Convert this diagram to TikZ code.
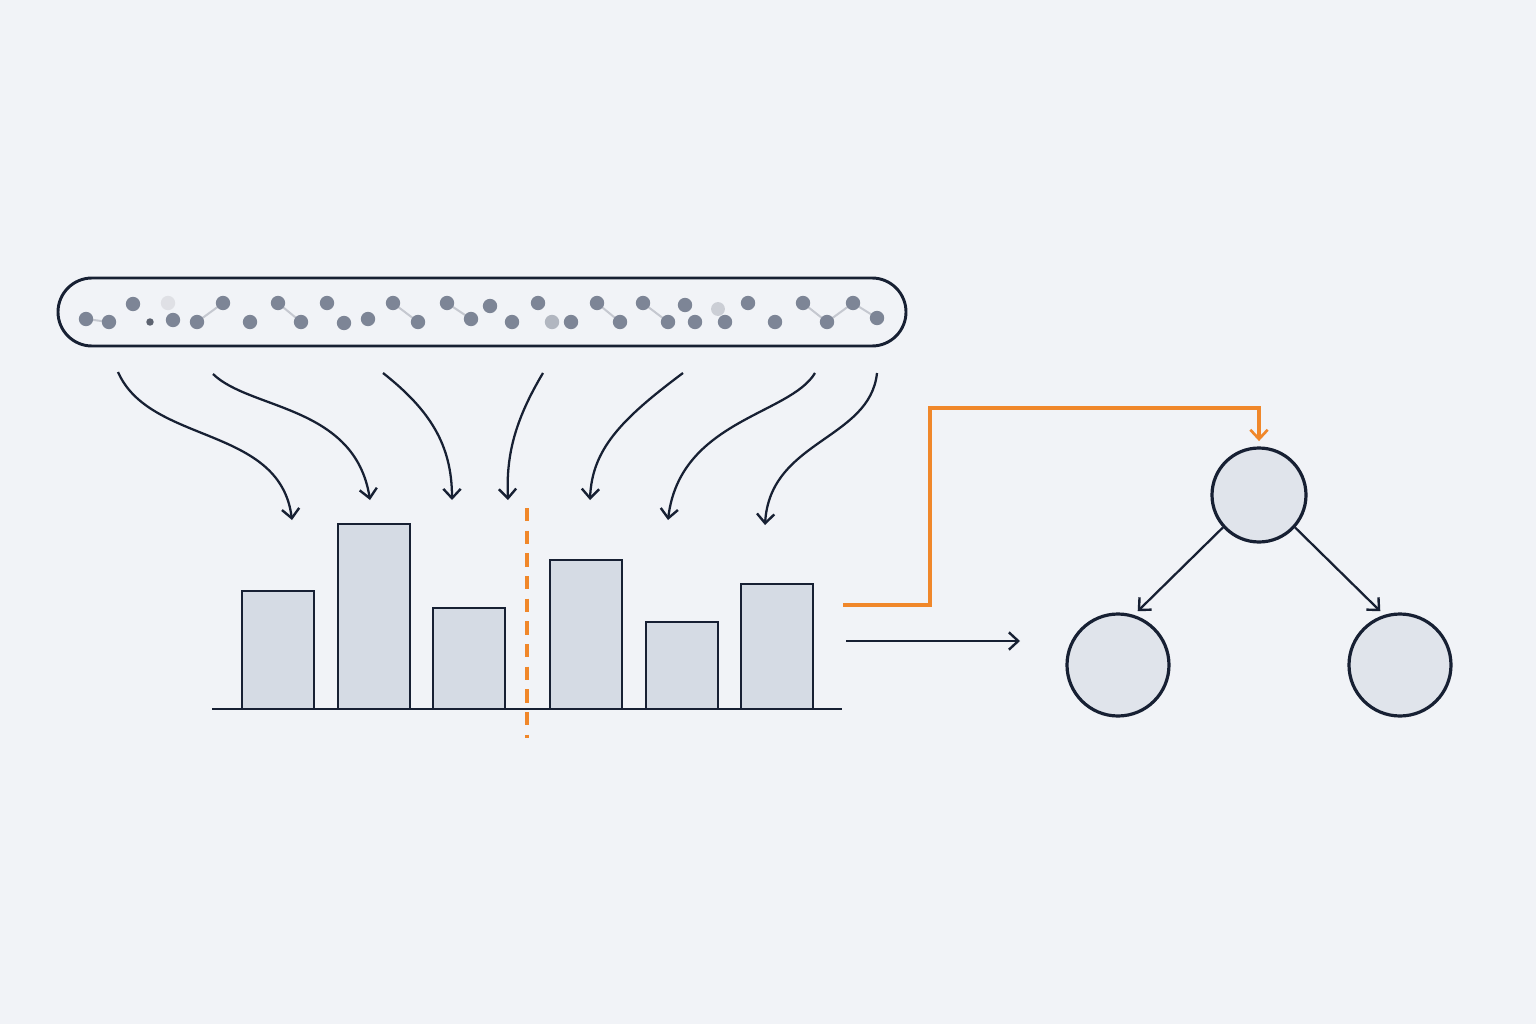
\documentclass[tikz,border=0pt]{standalone}
\usetikzlibrary{arrows.meta,calc}
\definecolor{bg}{HTML}{F1F3F7}
\definecolor{navy}{HTML}{172033}
\definecolor{dotc}{HTML}{7D8596}
\definecolor{barfill}{HTML}{D5DBE4}
\definecolor{nodefill}{HTML}{E0E4EB}
\definecolor{accent}{HTML}{F0872A}
\tikzset{
  ink/.style={draw=navy, line width=2.2pt},
  tip/.style={-{Straight Barb[length=7pt,width=13pt,line width=1.8pt]}},
  flow/.style={navy, line width=1.7pt, tip},
  barbox/.style={draw=navy, line width=2.2pt, fill=barfill},
  treenode/.style={circle, draw=navy, line width=2.4pt, fill=nodefill, inner sep=0pt},
  dot/.style={fill=dotc},
  link/.style={draw=dotc!45, line width=1.5pt},
  cut/.style={draw=accent, line width=3pt, dash pattern=on 10pt off 7pt},
  route/.style={draw=accent, line width=2.3pt, -{Straight Barb[length=7pt,width=13pt,line width=2pt]}}
}
\begin{document}
\begin{tikzpicture}[x=0.75pt,y=-0.75pt]
\fill[bg] (0,0) rectangle (1536,1024);
\useasboundingbox (0,0) rectangle (1536,1024);

% capsule of samples
\node[ink, rounded corners=25.5pt, minimum width=636pt, minimum height=51pt, inner sep=0pt] (cap) at (482,312) {};

% faint links between some samples
\foreach \a/\b/\c/\d in {86/319/109/322, 197/322/223/303, 278/303/301/322, 393/303/418/322, 447/303/471/319, 597/303/620/322, 643/303/668/322, 803/303/827/322, 827/322/853/303, 853/303/877/318}
  \draw[link] (\a,\b) -- (\c,\d);

% sample dots
\foreach \x/\y in {86/319, 109/322, 133/304, 173/320, 197/322, 223/303, 250/322, 278/303, 301/322, 327/303, 344/323, 368/319, 393/303, 418/322, 447/303, 471/319, 490/306, 512/322, 538/303, 571/322, 597/303, 620/322, 643/303, 668/322, 685/305, 695/322, 725/322, 748/303, 775/322, 803/303, 827/322, 853/303, 877/318}
  \fill[dot] (\x,\y) circle (5.4pt);
\fill[dotc!60] (552,322) circle (5.4pt);
\fill[dotc!25] (168,303) circle (5.4pt);
\fill[dotc!40] (718,309) circle (5.2pt);
\fill[navy!70] (150,322) circle (2.8pt);

% coordinates for curved arrows
\coordinate (s1) at (118,372); \coordinate (e1) at (292,520);
\coordinate (s2) at (213,374); \coordinate (e2) at (370,500);
\coordinate (s3) at (383,373); \coordinate (e3) at (452,500);
\coordinate (s4) at (543,373); \coordinate (e4) at (508,500);
\coordinate (s5) at (683,373); \coordinate (e5) at (590,500);
\coordinate (s6) at (815,373); \coordinate (e6) at (668,520);
\coordinate (s7) at (877,373); \coordinate (e7) at (765,525);

\draw[flow] (s1) .. controls (150,445) and (280,425) .. (e1);
\draw[flow] (s2) .. controls (250,410) and (355,405) .. (e2);
\draw[flow] (s3) .. controls (430,410) and (452,445) .. (e3);
\draw[flow] (s4) .. controls (515,420) and (506,455) .. (e4);
\draw[flow] (s5) .. controls (620,420) and (592,450) .. (e5);
\draw[flow] (s6) .. controls (790,415) and (680,420) .. (e6);
\draw[flow] (s7) .. controls (870,440) and (770,440) .. (e7);

% histogram bars
\draw[barbox] (242,709) rectangle (314,591);
\draw[barbox] (338,709) rectangle (410,524);
\draw[barbox] (433,709) rectangle (505,608);
\draw[barbox] (550,709) rectangle (622,560);
\draw[barbox] (646,709) rectangle (718,622);
\draw[barbox] (741,709) rectangle (813,584);
\coordinate (b0) at (212,709); \coordinate (b1) at (842,709);
\draw[navy, line width=2.2pt] (b0) -- (b1);

% split line
\coordinate (c0) at (527,508); \coordinate (c1) at (527,738);
\draw[cut] (c0) -- (c1);

% tree
\node[treenode, minimum size=70.5pt] (root) at (1259,495) {};
\node[treenode, minimum size=76.5pt] (left) at (1118,665) {};
\node[treenode, minimum size=76.5pt] (right) at (1400,665) {};
\draw[flow] (root.222) -- ($(left.68)+(0,-5)$);
\draw[flow] (root.318) -- ($(right.112)+(0,-5)$);

% orange route
\coordinate (o1) at (843,605);
\coordinate (o2) at (930,408);
\draw[route, shorten >=4pt] (o1) -| (o2) -| (root.north);

% plain arrow
\coordinate (a1) at (846,641); \coordinate (a2) at (1020,641);
\draw[flow] (a1) -- (a2);
\end{tikzpicture}
\end{document}
